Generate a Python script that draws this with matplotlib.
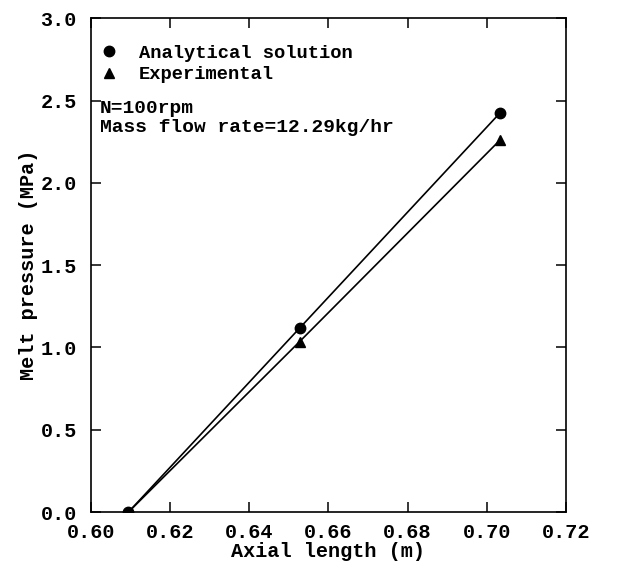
import numpy as np
import matplotlib
matplotlib.use("Agg")
import matplotlib.pyplot as plt

# data
axial_length = [0.6095, 0.6527, 0.7033]
p_analytical = [0.0, 1.117, 2.424]
p_experimental = [0.0, 1.035, 2.259]

x_ticks = [0.60, 0.62, 0.64, 0.66, 0.68, 0.70, 0.72]
y_ticks = [0.0, 0.5, 1.0, 1.5, 2.0, 2.5, 3.0]

plt.rcParams['font.family'] = ['Liberation Mono', 'DejaVu Sans Mono']
plt.rcParams['font.weight'] = 'bold'

fig = plt.figure(figsize=(6.22, 5.69), dpi=100)
ax = fig.add_axes([0.146, 0.100, 0.764, 0.868])

# lines
ax.plot(axial_length, p_analytical, '-', color='k', lw=1.2)
ax.plot(axial_length, p_experimental, '-', color='k', lw=1.2)
# markers
ax.plot(axial_length, p_analytical, 'o', color='k', ms=7.5,
        label='Analytical solution')
ax.plot(axial_length, p_experimental, '^', color='k', ms=6.5,
        label='Experimental')

ax.set_xlim(0.60, 0.72)
ax.set_ylim(0.0, 3.0)
ax.set_xticks(x_ticks)
ax.set_yticks(y_ticks)
ax.set_xticklabels(['%.2f' % v for v in x_ticks])
ax.set_yticklabels(['%.1f' % v for v in y_ticks])
ax.tick_params(direction='in', length=7, width=1.1, top=True, right=True,
               labelsize=14.5)
ax.tick_params(axis='x', pad=8)
ax.tick_params(axis='y', pad=10)
for s in ax.spines.values():
    s.set_linewidth(1.2)

ax.set_xlabel('Axial length (m)', fontsize=14.5, fontweight='bold', labelpad=0)
ax.set_ylabel('Melt pressure (MPa)', fontsize=14.5, fontweight='bold', labelpad=2)

ax.legend(loc='upper left', frameon=False, fontsize=13.5, handlelength=1.0,
          handletextpad=1.1, borderaxespad=0.2, labelspacing=0.22,
          bbox_to_anchor=(-0.006, 0.969))

ax.text(0.019, 0.835, 'N=100rpm\nMass flow rate=12.29kg/hr',
        transform=ax.transAxes, fontsize=14, fontweight='bold',
        va='top', ha='left', linespacing=1.2)

fig.savefig('out.png', dpi=100)
